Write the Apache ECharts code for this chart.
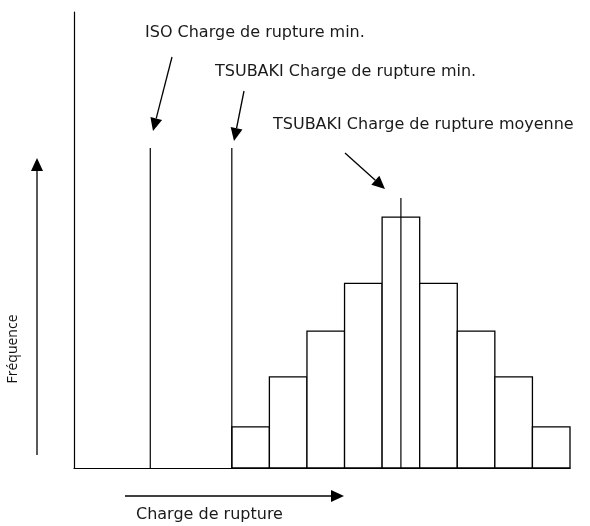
<!DOCTYPE html>
<html>
<head>
<meta charset="utf-8">
<script src="https://cdn.jsdelivr.net/npm/echarts@6/dist/echarts.min.js"></script>
<style>
html,body{margin:0;padding:0;background:#fff;}
#chart{width:590px;height:526px;}
</style>
</head>
<body>
<div id="chart"></div>
<script>
// Histogram bins (x start, x end) and frequencies
var binStarts = [4.2, 5.2, 6.2, 7.2, 8.2, 9.2, 10.2, 11.2, 12.2];
var binEnds   = [5.2, 6.2, 7.2, 8.2, 9.2, 10.2, 11.2, 12.2, 13.2];
var frequencies = [9, 20, 30, 40.5, 55, 40.5, 30, 20, 9];
// Reference lines: [x, top]
var isoMinLine = [2.03, 70.2];
var tsubakiMinLine = [4.2, 70.2];
var tsubakiMeanLine = [8.7, 59.2];
var labelIso = 'ISO Charge de rupture min.';
var labelTsubakiMin = 'TSUBAKI Charge de rupture min.';
var labelTsubakiMean = 'TSUBAKI Charge de rupture moyenne';
var xAxisTitle = 'Charge de rupture';
var yAxisTitle = 'Fréquence';

var FONT = '"DejaVu Sans", sans-serif';
var chart = echarts.init(document.getElementById('chart'), null, {renderer: 'canvas'});

var binData = binStarts.map(function (s, i) { return [s, binEnds[i], frequencies[i]]; });

function vline(p) {
  return {
    type: 'line', data: [[p[0], 0], [p[0], p[1]]], symbol: 'none', silent: true,
    lineStyle: {color: '#000', width: 1.2}, z: 5
  };
}

function arrowGraphic(x1, y1, x2, y2) {
  var ang = Math.atan2(y2 - y1, x2 - x1);
  var L = 13, W = 6;
  var bx = x2 - L * Math.cos(ang), by = y2 - L * Math.sin(ang);
  var px = -Math.sin(ang) * W, py = Math.cos(ang) * W;
  return [
    {type: 'line', shape: {x1: x1, y1: y1, x2: bx, y2: by}, style: {stroke: '#000', lineWidth: 1.3}},
    {type: 'polygon', shape: {points: [[x2, y2], [bx + px, by + py], [bx - px, by - py]]}, style: {fill: '#000'}}
  ];
}

var graphics = []
  .concat(arrowGraphic(172, 57, 153, 131))
  .concat(arrowGraphic(244, 91, 234, 141))
  .concat(arrowGraphic(345, 153, 385, 189))
  .concat(arrowGraphic(37, 455, 37, 158))
  .concat(arrowGraphic(125, 496, 344, 496));

function txt(s, x, y, size) {
  return {type: 'text', x: x, y: y,
    style: {text: s, font: size + 'px ' + FONT, fill: '#1a1a1a', align: 'left', verticalAlign: 'middle'}};
}

graphics.push(
  txt(labelIso, 145, 33, 16),
  txt(labelTsubakiMin, 215, 72, 16),
  txt(labelTsubakiMean, 273, 125, 16),
  txt(xAxisTitle, 136, 515, 16),
  {type: 'text', x: 13, y: 349, rotation: Math.PI / 2,
   style: {text: yAxisTitle, font: '14px "Open Sans", sans-serif', fill: '#111', align: 'center', verticalAlign: 'middle'}}
);

chart.setOption({
  animation: false,
  backgroundColor: '#fff',
  grid: {left: 74, right: 20, top: 12, bottom: 58},
  xAxis: {
    type: 'value', min: 0, max: 13.2,
    axisLine: {show: true, onZero: false, lineStyle: {color: '#000', width: 1.2}},
    axisTick: {show: false}, axisLabel: {show: false}, splitLine: {show: false}
  },
  yAxis: {
    type: 'value', min: 0, max: 100,
    axisLine: {show: true, onZero: false, lineStyle: {color: '#000', width: 1.2}},
    axisTick: {show: false}, axisLabel: {show: false}, splitLine: {show: false}
  },
  series: [
    {
      type: 'custom', data: binData, z: 3,
      renderItem: function (params, api) {
        var p0 = api.coord([api.value(0), 0]);
        var p1 = api.coord([api.value(1), api.value(2)]);
        return {
          type: 'rect',
          shape: {x: p0[0], y: p1[1], width: p1[0] - p0[0], height: p0[1] - p1[1]},
          style: {fill: '#fff', stroke: '#000', lineWidth: 1.3}
        };
      }
    },
    vline(isoMinLine),
    vline(tsubakiMinLine),
    vline(tsubakiMeanLine)
  ],
  graphic: graphics
});
</script>
</body>
</html>
